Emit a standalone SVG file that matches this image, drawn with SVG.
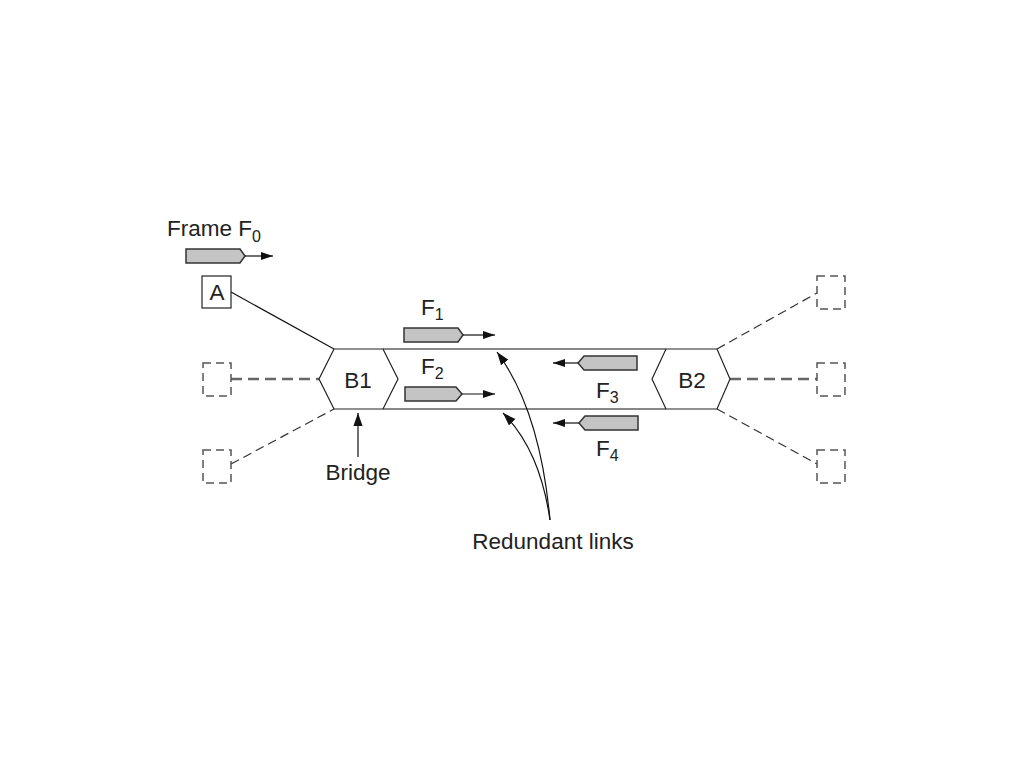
<svg xmlns="http://www.w3.org/2000/svg" width="1024" height="768" viewBox="0 0 1024 768">
<defs>
<marker id="ah" viewBox="0 0 12 10" refX="12" refY="5" markerWidth="12" markerHeight="10" markerUnits="userSpaceOnUse" orient="auto">
<path d="M0,1 L12,5 L0,9 Z" fill="#111"/>
</marker>
<marker id="ahb" viewBox="0 0 10 10" refX="10" refY="5" markerWidth="13" markerHeight="13" markerUnits="userSpaceOnUse" orient="auto">
<path d="M0,1.5 L10,5 L0,8.5 Z" fill="#111"/>
</marker>
</defs>
<style>
.t{font-family:"Liberation Sans",Arial,sans-serif;font-size:22.5px;fill:#222}
.s{font-family:"Liberation Sans",Arial,sans-serif;font-size:16px;fill:#222}
.frame{fill:#c4c4c4;stroke:#333;stroke-width:1.5}
.node{fill:#fff;stroke:#222;stroke-width:1.2}
.dbox{fill:none;stroke:#555;stroke-width:1.5;stroke-dasharray:8,5}
.link{fill:none;stroke:#111;stroke-width:1.2}
.dash{fill:none;stroke:#333;stroke-width:1.2;stroke-dasharray:9,5}
.dashg{fill:none;stroke:#666;stroke-width:2.5;stroke-dasharray:11,6}
.arr{fill:none;stroke:#111;stroke-width:1.2}
</style>
<rect width="1024" height="768" fill="#fff"/>
<g id="connectors">
<line class="link" x1="231" y1="292" x2="334" y2="349"/>
<line class="link" x1="383" y1="349" x2="666" y2="349"/>
<line class="link" x1="383" y1="409" x2="666" y2="409"/>
<line class="dashg" x1="231" y1="379" x2="319" y2="379"/>
<line class="dash" x1="231" y1="464" x2="334" y2="409"/>
<line class="dash" x1="717" y1="349" x2="817" y2="293"/>
<line class="dashg" x1="730" y1="379" x2="817" y2="379"/>
<line class="dash" x1="717" y1="409" x2="817" y2="464"/>
<line class="arr" x1="358" y1="457" x2="358" y2="413" marker-end="url(#ahb)"/>
<path class="arr" d="M550,520 Q540,410 497,352" marker-end="url(#ahb)"/>
<path class="arr" d="M550,520 Q540,450 503,413" marker-end="url(#ahb)"/>
</g>
<g id="A">
<rect class="node" x="202" y="276" width="29" height="32"/>
<text class="t" x="217" y="300" text-anchor="middle">A</text>
</g>
<g id="B1">
<polygon class="node" points="334,349 383,349 398,379 383,409 334,409 319,379"/>
<text class="t" x="358" y="388" text-anchor="middle">B1</text>
</g>
<g id="B2">
<polygon class="node" points="666,349 717,349 730,379 717,409 666,409 652,379"/>
<text class="t" x="692" y="388" text-anchor="middle">B2</text>
</g>
<g id="hosts-left">
<rect class="dbox" x="203" y="363" width="28" height="33"/>
<rect class="dbox" x="203" y="450" width="28" height="33"/>
</g>
<g id="hosts-right">
<rect class="dbox" x="817" y="276" width="28" height="33"/>
<rect class="dbox" x="817" y="363" width="28" height="33"/>
<rect class="dbox" x="817" y="450" width="28" height="33"/>
</g>
<g id="F0">
<text class="t" x="167" y="236">Frame F<tspan class="s" dy="6">0</tspan></text>
<polygon class="frame" points="186,249 240,249 245,256 240,263 186,263"/>
<line class="arr" x1="245" y1="256" x2="273" y2="256" marker-end="url(#ah)"/>
</g>
<g id="F1">
<text class="t" x="421" y="315">F<tspan class="s" dy="5">1</tspan></text>
<polygon class="frame" points="404,328 458,328 463,335 458,342 404,342"/>
<line class="arr" x1="463" y1="335" x2="495" y2="335" marker-end="url(#ah)"/>
</g>
<g id="F2">
<text class="t" x="421" y="374">F<tspan class="s" dy="5">2</tspan></text>
<polygon class="frame" points="405,387 456,387 462,394 456,401 405,401"/>
<line class="arr" x1="462" y1="394" x2="495" y2="394" marker-end="url(#ah)"/>
</g>
<g id="F3">
<text class="t" x="596" y="398">F<tspan class="s" dy="5">3</tspan></text>
<polygon class="frame" points="584,356 637,356 637,370 584,370 578,363"/>
<line class="arr" x1="578" y1="363" x2="553" y2="363" marker-end="url(#ah)"/>
</g>
<g id="F4">
<text class="t" x="596" y="456">F<tspan class="s" dy="5">4</tspan></text>
<polygon class="frame" points="585,416 638,416 638,430 585,430 579,423"/>
<line class="arr" x1="579" y1="423" x2="553" y2="423" marker-end="url(#ah)"/>
</g>
<g id="labels">
<text class="t" x="358" y="480" text-anchor="middle">Bridge</text>
<text class="t" x="553" y="549" text-anchor="middle">Redundant links</text>
</g>
</svg>
